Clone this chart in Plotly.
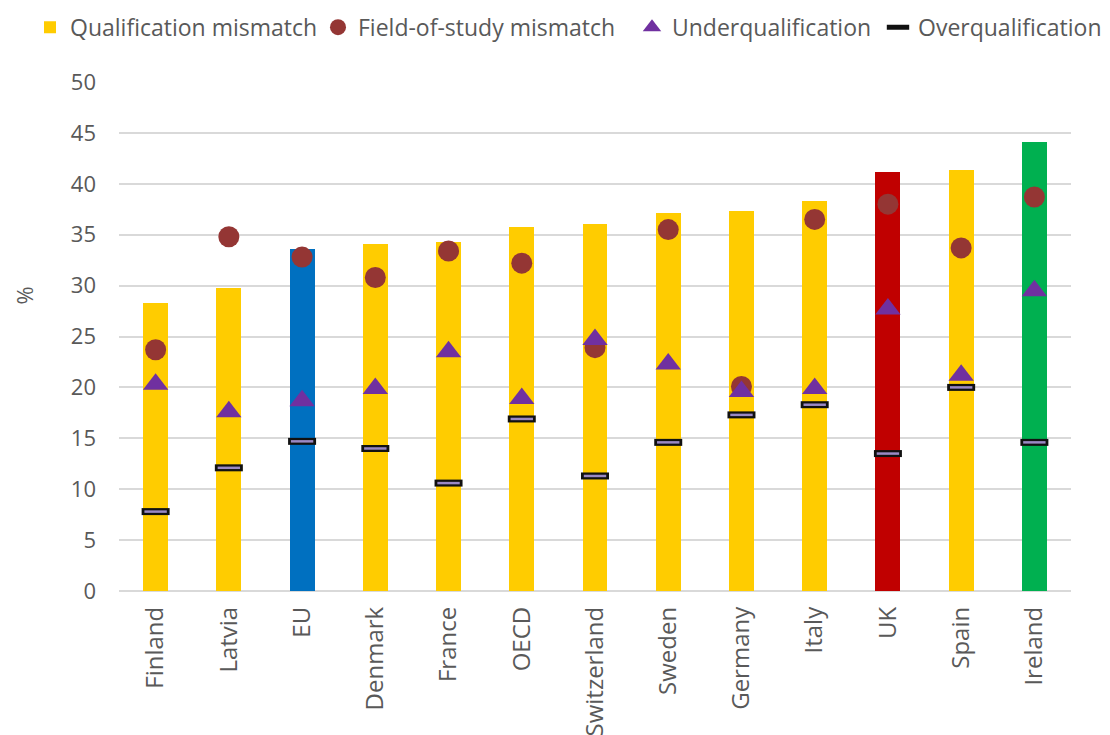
import plotly.graph_objects as go

countries = ["Finland", "Latvia", "EU", "Denmark", "France", "OECD", "Switzerland",
             "Sweden", "Germany", "Italy", "UK", "Spain", "Ireland"]
qualification = [28.3, 29.8, 33.6, 34.1, 34.3, 35.8, 36.1, 37.1, 37.3, 38.3, 41.2, 41.4, 44.1]
field_of_study = [23.7, 34.8, 32.8, 30.8, 33.4, 32.2, 23.9, 35.5, 20.1, 36.5, 38.0, 33.7, 38.7]
underqual = [20.3, 17.6, 18.7, 19.9, 23.5, 18.9, 24.7, 22.3, 19.6, 19.9, 27.7, 21.2, 29.5]
overqual = [7.8, 12.1, 14.7, 14.0, 10.6, 16.9, 11.3, 14.6, 17.3, 18.3, 13.5, 20.0, 14.6]

highlight = {"EU": "#0070C0", "UK": "#C00000", "Ireland": "#00B050"}
bar_colors = [highlight.get(c, "#FFCC00") for c in countries]

font_family = "Open Sans, Noto Sans, sans-serif"
text_color = "#595959"

fig = go.Figure()
fig.add_trace(go.Bar(
    x=countries, y=qualification, name="Qualification mismatch", legend="legend",
    marker=dict(color=bar_colors, line=dict(width=0)), width=0.34,
))
fig.add_trace(go.Scatter(
    x=countries, y=field_of_study, name="Field-of-study mismatch", mode="markers",
    legend="legend2",
    marker=dict(symbol="circle", size=21, color="#943634", line=dict(width=0)),
))
fig.add_trace(go.Scatter(
    x=countries, y=underqual, name="Underqualification", mode="markers",
    legend="legend3",
    marker=dict(symbol="triangle-up", size=22, color="#7030A0", line=dict(width=0)),
))
# dash marker: dark outline underneath, lighter fill stroke on top
fig.add_trace(go.Scatter(
    x=countries, y=overqual, name="Overqualification", mode="markers",
    legend="legend4",
    marker=dict(symbol="line-ew-open", size=20, color="#111111", line=dict(width=7, color="#111111")),
))
fig.add_trace(go.Scatter(
    x=countries, y=overqual, name="Overqualification", mode="markers", showlegend=False,
    marker=dict(symbol="line-ew-open", size=16, color="#9B89C4", line=dict(width=2.5, color="#9B89C4")),
))

legend_style = dict(
    orientation="h", xref="container", yref="container",
    y=0.963, xanchor="left", yanchor="middle",
    font=dict(size=23, color=text_color), itemwidth=30,
    bgcolor="rgba(0,0,0,0)",
)

fig.update_layout(
    width=1110, height=735,
    margin=dict(l=119, r=39, t=82, b=144, autoexpand=False),
    paper_bgcolor="white", plot_bgcolor="white",
    font=dict(family=font_family, color=text_color, size=22),
    showlegend=True,
    legend=dict(legend_style, x=30 / 1110),
    legend2=dict(legend_style, x=318 / 1110),
    legend3=dict(legend_style, x=632 / 1110),
    legend4=dict(legend_style, x=878 / 1110),
    xaxis=dict(
        range=[-0.5, len(countries) - 0.5],
        tickangle=-90, tickfont=dict(size=24, color=text_color),
        showgrid=False, showline=False, ticks="", ticklabelstandoff=10,
    ),
    yaxis=dict(
        range=[0, 50], dtick=5, tickfont=dict(size=22, color=text_color),
        showgrid=True, gridcolor="#D9D9D9", gridwidth=2,
        zeroline=True, zerolinecolor="#D9D9D9", zerolinewidth=2,
        ticks="", ticklabelstandoff=22,
    ),
    annotations=[dict(
        text="%", textangle=-90, xref="paper", yref="paper",
        x=-0.1, y=0.58, xanchor="center", yanchor="middle", showarrow=False,
        font=dict(size=22, color=text_color),
    )],
    bargap=0,
)

fig.write_html("out.html")
